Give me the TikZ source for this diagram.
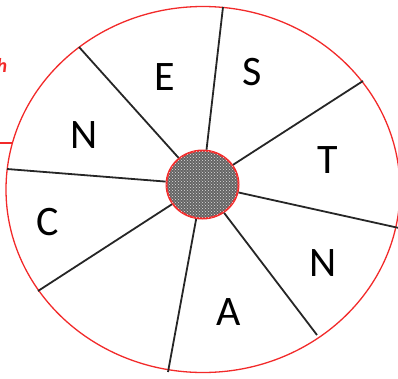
\documentclass[tikz,border=0pt]{standalone}
\usepackage{fontspec}
\setmainfont{Carlito}
\usetikzlibrary{shapes.geometric,patterns}
\definecolor{WheelRed}{HTML}{F22A2A}
\definecolor{HubGray}{HTML}{646464}
\tikzset{
  rim/.style={ellipse, draw=WheelRed, line width=1.3pt, minimum width=394pt,
              minimum height=366pt, inner sep=0pt},
  hub/.style={ellipse, draw=WheelRed, line width=2pt, fill=HubGray,
              postaction={pattern=crosshatch dots, pattern color=white!75!gray},
              minimum width=72pt, minimum height=68pt, inner sep=0pt},
  spoke/.style={line width=1.8pt, draw=black!85},
  tab/.style={line width=1.3pt, draw=WheelRed},
  letter/.style={font=\fontsize{42}{50}\selectfont, text=black, inner sep=0pt},
}

\begin{document}
\begin{tikzpicture}[x=1pt,y=-1pt]
    \useasboundingbox (0,0) rectangle (398,378);
    \node[rim] (rim) at (203,189.5) {};
    \node[hub] (hub) at (202.5,184.5) {};
    % outer ends of the spokes
    \coordinate (o1) at (223,7);
    \coordinate (o2) at (363,81);
    \coordinate (o3) at (399,228);
    \coordinate (o4) at (317,335);
    \coordinate (o5) at (168,372);
    \coordinate (o6) at (38,291);
    \coordinate (o7) at (7,169);
    \coordinate (o8) at (79,47);
    \foreach \o in {o1,o2,o3,o4,o5,o6,o7,o8}
      \draw[spoke] (hub) -- (\o);
    % letters
    \node[letter] (e) at (165,77) {E};
    \node[letter] (s) at (252,72) {S};
    \node[letter] (t) at (328,160) {T};
    \node[letter] (n1) at (323,263) {N};
    \node[letter] (a) at (229,312) {A};
    \node[letter] (c) at (48,222) {C};
    \node[letter] (n2) at (84,135) {N};
    % cut-off label on the left
    \node[text=WheelRed, font=\bfseries\itshape\fontsize{20}{22}\selectfont, inner sep=0pt] (cut) at (2,65) {h};
    \coordinate (lead) at (-2,143);
    \coordinate (leadend) at (12.5,143);
    \draw[tab] (lead) -- (leadend);
\end{tikzpicture}
\end{document}
